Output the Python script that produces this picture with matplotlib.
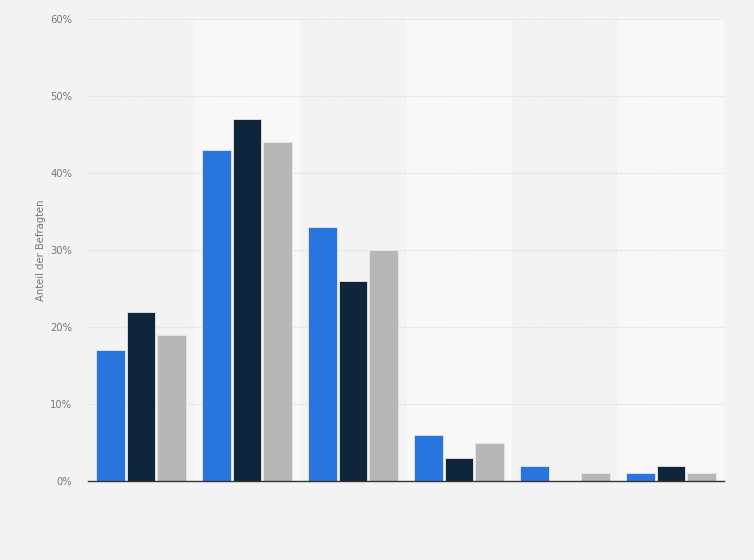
import matplotlib
matplotlib.use("Agg")
import matplotlib.pyplot as plt
import numpy as np
from matplotlib.ticker import FuncFormatter

groups = ["1", "2", "3", "4", "5", "6"]
series_a = [17, 43, 33, 6, 2, 1]
series_b = [22, 47, 26, 3, 0, 2]
series_c = [19, 44, 30, 5, 1, 1]
colors = ["#2876dd", "#0f253c", "#b7b7b7"]
y_ticks = [0, 10, 20, 30, 40, 50, 60]

fig = plt.figure(figsize=(7.54, 5.6), dpi=100, facecolor="#f3f3f3")
ax = fig.add_axes([88/754, 79/560, 636/754, 462/560])
ax.set_facecolor("#f3f3f3")

x = np.arange(len(groups))
for i in range(len(groups)):
    if i % 2 == 1:
        ax.axvspan(i - 0.5, i + 0.5, color="#f8f8f8", zorder=0, lw=0)

w = 0.265
step = 0.288
for k, (vals, c) in enumerate(zip([series_a, series_b, series_c], colors)):
    ax.bar(x + (k - 1) * step, vals, width=w, color=c, edgecolor="#e8e8e8", linewidth=0.6, zorder=3)

ax.set_xlim(-0.5, len(groups) - 0.5)
ax.set_ylim(0, 60)
ax.set_yticks(y_ticks)
ax.yaxis.set_major_formatter(FuncFormatter(lambda v, p: f"{int(v)}%"))
ax.set_xticks([])
ax.grid(axis="y", color="#d6d6d6", linestyle=(0, (1, 1.5)), linewidth=0.8, zorder=1)
for s in ["top", "right", "left"]:
    ax.spines[s].set_visible(False)
ax.spines["bottom"].set_color("#333333")
ax.spines["bottom"].set_linewidth(1.0)
ax.spines["bottom"].set_zorder(4)
ax.tick_params(axis="y", length=0, pad=11.5, labelsize=7.2, labelcolor="#777777")
ax.set_ylabel("Anteil der Befragten", fontsize=7.2, color="#777777", labelpad=3)

fig.savefig("out.png", dpi=100, facecolor=fig.get_facecolor())
